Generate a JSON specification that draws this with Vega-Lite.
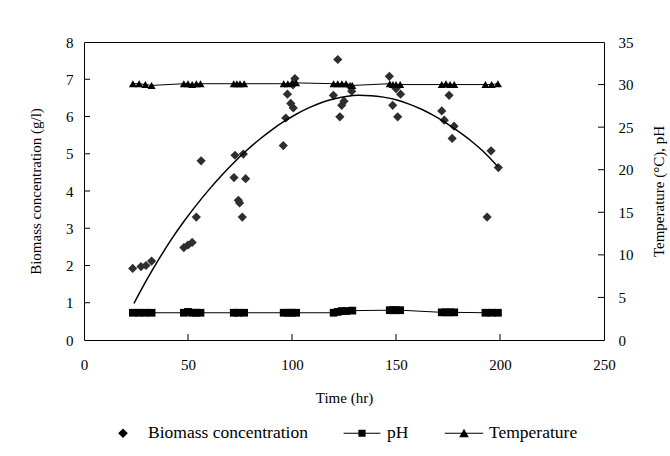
{
  "$schema": "https://vega.github.io/schema/vega-lite/v6.json",
  "autosize": "none",
  "width": 520,
  "height": 298,
  "padding": {"left": 84, "top": 42, "right": 66, "bottom": 116},
  "background": "white",
  "config": {
    "view": {"stroke": "black", "strokeWidth": 1},
    "scale": {"continuousPadding": 0},
    "axis": {
      "domain": false, "grid": false, "ticks": false, "tickSize": 0, "labelFlush": false,
      "labelFont": "Liberation Serif", "labelFontSize": 15, "labelColor": "black",
      "titleFont": "Liberation Serif", "titleFontSize": 15, "titleFontWeight": "normal", "titleColor": "black",
      "labelOverlap": false, "tickCount": 20
    }
  },
  "datasets": {
    "bio": [
      {"t": 23.4, "v": 1.92}, {"t": 27.4, "v": 1.97}, {"t": 29.8, "v": 2.0}, {"t": 32.5, "v": 2.12},
      {"t": 48, "v": 2.48}, {"t": 50, "v": 2.55}, {"t": 52, "v": 2.62}, {"t": 54, "v": 3.3},
      {"t": 56.3, "v": 4.81}, {"t": 72.1, "v": 4.36}, {"t": 72.6, "v": 4.96}, {"t": 76.6, "v": 4.99},
      {"t": 77.7, "v": 4.33}, {"t": 74.2, "v": 3.75}, {"t": 74.8, "v": 3.68}, {"t": 76.1, "v": 3.3},
      {"t": 95.8, "v": 5.22}, {"t": 97, "v": 5.96}, {"t": 97.8, "v": 6.6}, {"t": 99.4, "v": 6.35},
      {"t": 100.6, "v": 6.23}, {"t": 101.4, "v": 7.02}, {"t": 100.5, "v": 6.85}, {"t": 122, "v": 7.53},
      {"t": 119.9, "v": 6.57}, {"t": 123, "v": 5.99}, {"t": 123.9, "v": 6.3}, {"t": 125, "v": 6.41},
      {"t": 128.7, "v": 6.68}, {"t": 128, "v": 6.8}, {"t": 146.8, "v": 7.08}, {"t": 148.4, "v": 6.3},
      {"t": 150.8, "v": 5.99}, {"t": 152.2, "v": 6.6}, {"t": 150, "v": 6.75}, {"t": 175.5, "v": 6.57},
      {"t": 172, "v": 6.15}, {"t": 173.2, "v": 5.9}, {"t": 177.9, "v": 5.74}, {"t": 177, "v": 5.41},
      {"t": 193.8, "v": 3.3}, {"t": 195.7, "v": 5.08}, {"t": 199.2, "v": 4.63}
    ],
    "fit": [
      {"t": 24, "v": 0.98}, {"t": 30, "v": 1.6}, {"t": 36, "v": 2.17}, {"t": 42, "v": 2.7},
      {"t": 48, "v": 3.18}, {"t": 54, "v": 3.62}, {"t": 60, "v": 4.03}, {"t": 66, "v": 4.41},
      {"t": 72, "v": 4.76}, {"t": 78, "v": 5.08}, {"t": 84, "v": 5.37}, {"t": 90, "v": 5.63},
      {"t": 96, "v": 5.86}, {"t": 102, "v": 6.06}, {"t": 108, "v": 6.23}, {"t": 114, "v": 6.37},
      {"t": 120, "v": 6.47}, {"t": 126, "v": 6.54}, {"t": 132, "v": 6.57}, {"t": 138, "v": 6.56},
      {"t": 144, "v": 6.52}, {"t": 150, "v": 6.45}, {"t": 156, "v": 6.34}, {"t": 162, "v": 6.2},
      {"t": 168, "v": 6.03}, {"t": 174, "v": 5.83}, {"t": 180, "v": 5.6}, {"t": 186, "v": 5.35},
      {"t": 192, "v": 5.06}, {"t": 199, "v": 4.65}
    ],
    "xticks": [{"t": 50}, {"t": 100}, {"t": 150}, {"t": 200}],
    "lticks": [{"v": 1}, {"v": 2}, {"v": 3}, {"v": 4}, {"v": 5}, {"v": 6}, {"v": 7}],
    "rticks": [{"v": 5}, {"v": 10}, {"v": 15}, {"v": 20}, {"v": 25}, {"v": 30}],
    "legendrows": [
      {"series": "Biomass concentration", "t": null, "v": null},
      {"series": "pH", "t": null, "v": null},
      {"series": "Temperature", "t": null, "v": null}
    ],
    "env": [
      {"series": "Temperature", "t": 23.5, "v": 30.1}, {"series": "Temperature", "t": 26.5, "v": 30.1},
      {"series": "Temperature", "t": 29.5, "v": 30.0}, {"series": "Temperature", "t": 32.5, "v": 29.9},
      {"series": "Temperature", "t": 48, "v": 30.1}, {"series": "Temperature", "t": 50, "v": 30.1},
      {"series": "Temperature", "t": 52, "v": 30.0}, {"series": "Temperature", "t": 54, "v": 30.1},
      {"series": "Temperature", "t": 56, "v": 30.1}, {"series": "Temperature", "t": 72, "v": 30.1},
      {"series": "Temperature", "t": 73.5, "v": 30.1}, {"series": "Temperature", "t": 75, "v": 30.1},
      {"series": "Temperature", "t": 77, "v": 30.1}, {"series": "Temperature", "t": 96, "v": 30.1},
      {"series": "Temperature", "t": 98, "v": 30.1}, {"series": "Temperature", "t": 100, "v": 30.2},
      {"series": "Temperature", "t": 102, "v": 30.2}, {"series": "Temperature", "t": 120, "v": 30.1},
      {"series": "Temperature", "t": 122, "v": 30.1}, {"series": "Temperature", "t": 124, "v": 30.1},
      {"series": "Temperature", "t": 126, "v": 30.1}, {"series": "Temperature", "t": 129, "v": 29.9},
      {"series": "Temperature", "t": 147, "v": 30.1}, {"series": "Temperature", "t": 148.5, "v": 30.0},
      {"series": "Temperature", "t": 150, "v": 30.0}, {"series": "Temperature", "t": 152, "v": 30.0},
      {"series": "Temperature", "t": 172, "v": 30.0}, {"series": "Temperature", "t": 174, "v": 30.1},
      {"series": "Temperature", "t": 176, "v": 30.0}, {"series": "Temperature", "t": 178, "v": 30.0},
      {"series": "Temperature", "t": 193, "v": 30.0}, {"series": "Temperature", "t": 196, "v": 30.0},
      {"series": "Temperature", "t": 199, "v": 30.1},
      {"series": "pH", "t": 23.5, "v": 3.2}, {"series": "pH", "t": 26.5, "v": 3.2},
      {"series": "pH", "t": 29.5, "v": 3.2}, {"series": "pH", "t": 32.5, "v": 3.2},
      {"series": "pH", "t": 48, "v": 3.2}, {"series": "pH", "t": 50, "v": 3.3},
      {"series": "pH", "t": 52, "v": 3.2}, {"series": "pH", "t": 54, "v": 3.2},
      {"series": "pH", "t": 56, "v": 3.2}, {"series": "pH", "t": 72, "v": 3.2},
      {"series": "pH", "t": 74, "v": 3.2}, {"series": "pH", "t": 77, "v": 3.2},
      {"series": "pH", "t": 96, "v": 3.2}, {"series": "pH", "t": 98, "v": 3.2},
      {"series": "pH", "t": 100, "v": 3.2}, {"series": "pH", "t": 102, "v": 3.2},
      {"series": "pH", "t": 120, "v": 3.2}, {"series": "pH", "t": 122, "v": 3.3},
      {"series": "pH", "t": 124, "v": 3.4}, {"series": "pH", "t": 126, "v": 3.4},
      {"series": "pH", "t": 129, "v": 3.45}, {"series": "pH", "t": 147, "v": 3.5},
      {"series": "pH", "t": 148.5, "v": 3.5}, {"series": "pH", "t": 150, "v": 3.5},
      {"series": "pH", "t": 152, "v": 3.5}, {"series": "pH", "t": 172, "v": 3.25},
      {"series": "pH", "t": 174, "v": 3.25}, {"series": "pH", "t": 176, "v": 3.25},
      {"series": "pH", "t": 178, "v": 3.25}, {"series": "pH", "t": 193, "v": 3.2},
      {"series": "pH", "t": 196, "v": 3.2}, {"series": "pH", "t": 199, "v": 3.2}
    ]
  },
  "layer": [
    {
      "layer": [
        {
          "data": {"name": "bio"},
          "mark": {"type": "point", "filled": true, "opacity": 1, "color": "#2e2e2e", "size": 85, "shape": "diamond"},
          "encoding": {
            "x": {"field": "t", "type": "quantitative", "scale": {"domain": [0, 250], "padding": 0, "nice": false},
                  "axis": {"values": [0, 50, 100, 150, 200, 250], "format": "d", "tickCount": 20, "title": "Time (hr)", "labelPadding": 17, "titlePadding": 18, "titleFontWeight": "normal", "labelOverlap": false, "labelFlush": false, "ticks": false, "tickSize": 0, "domain": false}},
            "y": {"field": "v", "type": "quantitative", "scale": {"domain": [0, 8], "padding": 0, "nice": false},
                  "axis": {"orient": "left", "values": [0, 1, 2, 3, 4, 5, 6, 7, 8], "format": "d", "tickCount": 20, "title": "Biomass concentration (g/l)", "labelPadding": 11, "titlePadding": 22, "titleFontWeight": "normal", "labelOverlap": false, "labelFlush": false, "ticks": false, "tickSize": 0, "domain": false}}
          }
        },
        {
          "data": {"name": "fit"},
          "mark": {"type": "line", "color": "black", "strokeWidth": 1.5, "interpolate": "monotone"},
          "encoding": {
            "x": {"field": "t", "type": "quantitative"},
            "y": {"field": "v", "type": "quantitative"}
          }
        },
        {
          "data": {"name": "xticks"},
          "mark": {"type": "tick", "orient": "vertical", "size": 12, "thickness": 1, "color": "black", "opacity": 1, "clip": true},
          "encoding": {
            "x": {"field": "t", "type": "quantitative"},
            "y": {"datum": 0, "type": "quantitative"}
          }
        },
        {
          "data": {"name": "lticks"},
          "mark": {"type": "tick", "orient": "horizontal", "size": 12, "thickness": 1, "color": "black", "opacity": 1, "clip": true},
          "encoding": {
            "x": {"datum": 0, "type": "quantitative"},
            "y": {"field": "v", "type": "quantitative"}
          }
        },
        {
          "data": {"name": "legendrows"},
          "mark": {"type": "point", "filled": true, "opacity": 1, "color": "black"},
          "encoding": {
            "x": {"field": "t", "type": "quantitative"},
            "y": {"field": "v", "type": "quantitative"},
            "shape": {"field": "series", "type": "nominal",
              "scale": {"domain": ["Biomass concentration", "pH", "Temperature"],
                        "range": ["M0,-0.6L0.6,0L0,0.6L-0.6,0Z", "M-2.3,-0.07H2.3V0.07H-2.3Z M-0.45,-0.45H0.45V0.45H-0.45Z", "M-2.4,-0.07H2.4V0.07H-2.4Z M0,-0.55L0.6,0.5H-0.6Z"]},
              "legend": {
                "title": null, "orient": "none", "direction": "horizontal",
                "legendX": 30, "legendY": 382, "padding": 0,
                "symbolSize": 256, "symbolFillColor": "black", "symbolOpacity": 1,
                "labelFont": "Liberation Serif", "labelFontSize": 17.5, "labelColor": "black", "labelOffset": 16,
                "columnPadding": 32
              }}
          }
        }
      ]
    },
    {
      "layer": [
        {
          "data": {"name": "env"},
          "mark": {"type": "line", "color": "black", "strokeWidth": 1},
          "encoding": {
            "x": {"field": "t", "type": "quantitative"},
            "y": {"field": "v", "type": "quantitative", "scale": {"domain": [0, 35], "padding": 0, "nice": false},
                  "axis": {"orient": "right", "values": [0, 5, 10, 15, 20, 25, 30, 35], "format": "d", "tickCount": 20, "title": "Temperature (°C), pH", "titleAngle": -90, "labelPadding": 14, "titlePadding": 33, "titleFontWeight": "normal", "labelOverlap": false, "labelFlush": false, "ticks": false, "tickSize": 0, "domain": false}},
            "detail": {"field": "series", "type": "nominal"}
          }
        },
        {
          "data": {"name": "rticks"},
          "mark": {"type": "tick", "orient": "horizontal", "size": 12, "thickness": 1, "color": "black", "opacity": 1, "clip": true},
          "encoding": {
            "x": {"datum": 250, "type": "quantitative"},
            "y": {"field": "v", "type": "quantitative"}
          }
        },
        {
          "data": {"name": "env"},
          "transform": [{"filter": "datum.series === 'pH'"}],
          "mark": {"type": "point", "filled": true, "opacity": 1, "color": "black", "size": 60, "shape": "square"},
          "encoding": {
            "x": {"field": "t", "type": "quantitative"},
            "y": {"field": "v", "type": "quantitative"}
          }
        },
        {
          "data": {"name": "env"},
          "transform": [{"filter": "datum.series === 'Temperature'"}],
          "mark": {"type": "point", "filled": true, "opacity": 1, "color": "black", "size": 65, "shape": "triangle-up"},
          "encoding": {
            "x": {"field": "t", "type": "quantitative"},
            "y": {"field": "v", "type": "quantitative"}
          }
        }
      ]
    }
  ],
  "resolve": {"scale": {"y": "independent"}}
}
